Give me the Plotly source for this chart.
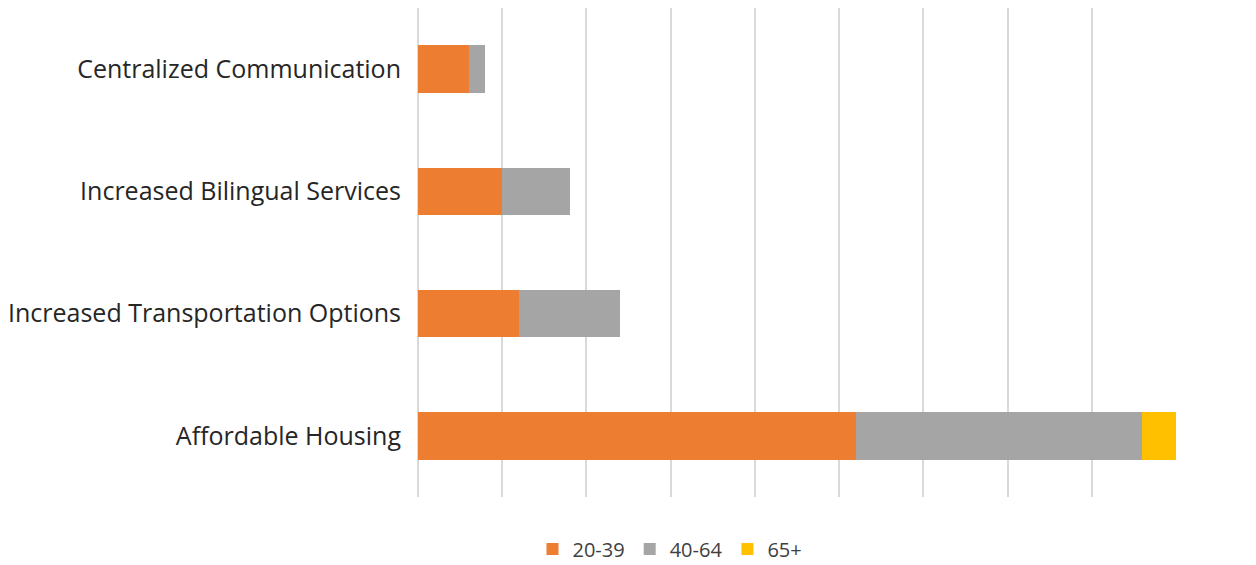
import plotly.graph_objects as go

categories = ["Affordable Housing", "Increased Transportation Options",
              "Increased Bilingual Services", "Centralized Communication"]
age_20_39 = [26, 6, 5, 3]
age_40_64 = [17, 6, 4, 1]
age_65_plus = [2, 0, 0, 0]

series = [
    ("20-39", age_20_39, "#ED7D31"),
    ("40-64", age_40_64, "#A5A5A5"),
    ("65+", age_65_plus, "#FFC000"),
]

fig = go.Figure()
for name, vals, color in series:
    fig.add_trace(go.Bar(
        y=categories, x=vals, name=name, orientation="h",
        marker=dict(color=color, line=dict(width=0)),
    ))

font_family = "'Open Sans', Roboto, sans-serif"
fig.update_layout(
    barmode="stack",
    bargap=0.61,
    width=1256, height=565,
    margin=dict(l=418, r=80, t=8, b=68, autoexpand=False),
    plot_bgcolor="white", paper_bgcolor="white",
    font=dict(family=font_family, color="#262626"),
    legend=dict(orientation="h", xref="container", yref="container",
                x=670 / 1256, xanchor="center", y=1 - 549 / 565, yanchor="middle",
                font=dict(size=20, color="#404040"), traceorder="normal",
                itemwidth=30),
    xaxis=dict(range=[0, 45], dtick=5, showticklabels=False, showgrid=True,
               gridcolor="#D9D9D9", gridwidth=2, zeroline=True,
               zerolinecolor="#D9D9D9", zerolinewidth=2, fixedrange=True),
    yaxis=dict(tickfont=dict(size=25, color="#262626"), ticklabelstandoff=16,
               showgrid=False, zeroline=False, ticks=""),
)

fig.write_html("out.html")
